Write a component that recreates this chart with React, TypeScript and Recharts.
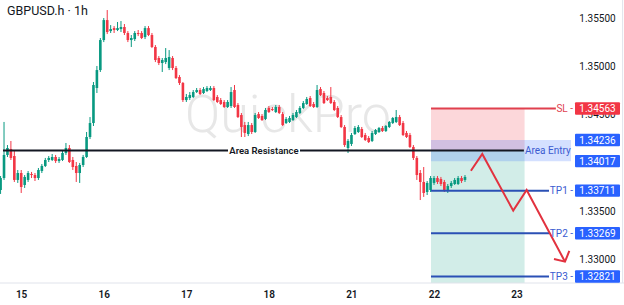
import React from 'react';
import {
  ComposedChart, Bar, Line, XAxis, YAxis, ReferenceArea, ReferenceLine, ReferenceDot,
} from 'recharts';

// [open, high, low, close] hourly candles
const ohlc: [number, number, number, number][] = [
  [1.33718, 1.33863, 1.33677, 1.33842],
  [1.33842, 1.34423, 1.33822, 1.34081],
  [1.34081, 1.34184, 1.34060, 1.34153],
  [1.34143, 1.34226, 1.34029, 1.34050],
  [1.34070, 1.34132, 1.33801, 1.33822],
  [1.33822, 1.33925, 1.33791, 1.33894],
  [1.33894, 1.33925, 1.33687, 1.33749],
  [1.33770, 1.33873, 1.33739, 1.33853],
  [1.33822, 1.33915, 1.33801, 1.33894],
  [1.33884, 1.33905, 1.33842, 1.33873],
  [1.33873, 1.33894, 1.33811, 1.33842],
  [1.33842, 1.33946, 1.33822, 1.33925],
  [1.33915, 1.33987, 1.33894, 1.33967],
  [1.33967, 1.34050, 1.33956, 1.34029],
  [1.34029, 1.34070, 1.34008, 1.34050],
  [1.34029, 1.34091, 1.34018, 1.34060],
  [1.34060, 1.34081, 1.33998, 1.34018],
  [1.34018, 1.34060, 1.33998, 1.34039],
  [1.34029, 1.34122, 1.34018, 1.34101],
  [1.34101, 1.34205, 1.34081, 1.34153],
  [1.34153, 1.34184, 1.33998, 1.34008],
  [1.34029, 1.34060, 1.33925, 1.33956],
  [1.33967, 1.34008, 1.33801, 1.33894],
  [1.33894, 1.33998, 1.33791, 1.33977],
  [1.33977, 1.34081, 1.33956, 1.34060],
  [1.34060, 1.34319, 1.34050, 1.34267],
  [1.34267, 1.34474, 1.34246, 1.34412],
  [1.34412, 1.34837, 1.34381, 1.34806],
  [1.34775, 1.35003, 1.34723, 1.34961],
  [1.34961, 1.35293, 1.34941, 1.35272],
  [1.35272, 1.35500, 1.35251, 1.35479],
  [1.35479, 1.35583, 1.35334, 1.35355],
  [1.35365, 1.35427, 1.35345, 1.35386],
  [1.35396, 1.35417, 1.35345, 1.35376],
  [1.35376, 1.35459, 1.35365, 1.35396],
  [1.35386, 1.35469, 1.35355, 1.35407],
  [1.35407, 1.35438, 1.35324, 1.35345],
  [1.35345, 1.35365, 1.35251, 1.35272],
  [1.35272, 1.35324, 1.35200, 1.35293],
  [1.35282, 1.35365, 1.35262, 1.35345],
  [1.35345, 1.35376, 1.35313, 1.35334],
  [1.35345, 1.35365, 1.35282, 1.35293],
  [1.35303, 1.35417, 1.35282, 1.35396],
  [1.35396, 1.35417, 1.35313, 1.35324],
  [1.35324, 1.35345, 1.35189, 1.35200],
  [1.35200, 1.35220, 1.35044, 1.35065],
  [1.35086, 1.35106, 1.35013, 1.35034],
  [1.35034, 1.35086, 1.34941, 1.35065],
  [1.35044, 1.35189, 1.35023, 1.35086],
  [1.34982, 1.35168, 1.34961, 1.35096],
  [1.35086, 1.35106, 1.34961, 1.34982],
  [1.34982, 1.35003, 1.34868, 1.34878],
  [1.34889, 1.34909, 1.34806, 1.34827],
  [1.34827, 1.34837, 1.34630, 1.34650],
  [1.34650, 1.34713, 1.34630, 1.34682],
  [1.34671, 1.34733, 1.34650, 1.34702],
  [1.34682, 1.34754, 1.34671, 1.34733],
  [1.34733, 1.34775, 1.34723, 1.34754],
  [1.34754, 1.34775, 1.34702, 1.34713],
  [1.34723, 1.34785, 1.34713, 1.34764],
  [1.34744, 1.34795, 1.34733, 1.34775],
  [1.34754, 1.34795, 1.34744, 1.34775],
  [1.34775, 1.34795, 1.34640, 1.34650],
  [1.34682, 1.34702, 1.34619, 1.34630],
  [1.34650, 1.34671, 1.34599, 1.34609],
  [1.34630, 1.34650, 1.34568, 1.34578],
  [1.34578, 1.34650, 1.34568, 1.34630],
  [1.34588, 1.34785, 1.34568, 1.34733],
  [1.34754, 1.34806, 1.34568, 1.34578],
  [1.34599, 1.34619, 1.34464, 1.34474],
  [1.34495, 1.34516, 1.34267, 1.34371],
  [1.34391, 1.34423, 1.34267, 1.34309],
  [1.34298, 1.34423, 1.34277, 1.34391],
  [1.34391, 1.34412, 1.34298, 1.34319],
  [1.34319, 1.34516, 1.34309, 1.34495],
  [1.34505, 1.34526, 1.34454, 1.34464],
  [1.34485, 1.34505, 1.34433, 1.34443],
  [1.34454, 1.34568, 1.34443, 1.34547],
  [1.34568, 1.34588, 1.34516, 1.34526],
  [1.34557, 1.34578, 1.34536, 1.34547],
  [1.34526, 1.34599, 1.34516, 1.34578],
  [1.34578, 1.34599, 1.34505, 1.34516],
  [1.34505, 1.34526, 1.34381, 1.34391],
  [1.34412, 1.34474, 1.34402, 1.34454],
  [1.34423, 1.34485, 1.34412, 1.34464],
  [1.34443, 1.34516, 1.34433, 1.34495],
  [1.34474, 1.34547, 1.34464, 1.34526],
  [1.34516, 1.34588, 1.34505, 1.34568],
  [1.34568, 1.34640, 1.34557, 1.34619],
  [1.34609, 1.34682, 1.34599, 1.34661],
  [1.34671, 1.34692, 1.34578, 1.34588],
  [1.34609, 1.34630, 1.34568, 1.34578],
  [1.34578, 1.34806, 1.34568, 1.34754],
  [1.34764, 1.34785, 1.34692, 1.34702],
  [1.34723, 1.34744, 1.34609, 1.34619],
  [1.34671, 1.34692, 1.34640, 1.34650],
  [1.34682, 1.34785, 1.34609, 1.34619],
  [1.34630, 1.34650, 1.34536, 1.34547],
  [1.34568, 1.34588, 1.34464, 1.34474],
  [1.34474, 1.34495, 1.34360, 1.34371],
  [1.34371, 1.34391, 1.34164, 1.34184],
  [1.34153, 1.34246, 1.34101, 1.34226],
  [1.34195, 1.34309, 1.34174, 1.34288],
  [1.34298, 1.34381, 1.34288, 1.34360],
  [1.34319, 1.34391, 1.34309, 1.34371],
  [1.34350, 1.34371, 1.34257, 1.34267],
  [1.34288, 1.34309, 1.34226, 1.34236],
  [1.34257, 1.34277, 1.34205, 1.34215],
  [1.34226, 1.34329, 1.34215, 1.34309],
  [1.34298, 1.34350, 1.34288, 1.34340],
  [1.34319, 1.34371, 1.34309, 1.34360],
  [1.34360, 1.34381, 1.34319, 1.34329],
  [1.34329, 1.34391, 1.34319, 1.34381],
  [1.34371, 1.34433, 1.34360, 1.34423],
  [1.34412, 1.34474, 1.34402, 1.34464],
  [1.34423, 1.34547, 1.34412, 1.34474],
  [1.34474, 1.34495, 1.34381, 1.34391],
  [1.34412, 1.34433, 1.34277, 1.34288],
  [1.34309, 1.34329, 1.34257, 1.34267],
  [1.34288, 1.34309, 1.34153, 1.34164],
  [1.34164, 1.34184, 1.34029, 1.34050],
  [1.34050, 1.34070, 1.33822, 1.33873],
  [1.33894, 1.33925, 1.33614, 1.33801],
  [1.33801, 1.33956, 1.33646, 1.33687],
  [1.33697, 1.33811, 1.33666, 1.33791],
  [1.33718, 1.33863, 1.33697, 1.33842],
  [1.33791, 1.33863, 1.33770, 1.33842],
  [1.33842, 1.33863, 1.33780, 1.33801],
  [1.33832, 1.33853, 1.33759, 1.33780],
  [1.33801, 1.33822, 1.33697, 1.33718],
  [1.33718, 1.33780, 1.33687, 1.33759],
  [1.33759, 1.33811, 1.33739, 1.33791],
  [1.33780, 1.33842, 1.33770, 1.33822],
  [1.33780, 1.33863, 1.33770, 1.33842],
  [1.33842, 1.33863, 1.33791, 1.33811],
  [1.33822, 1.33873, 1.33801, 1.33853],
];

const dayTicks = [6, 30, 54, 78, 102, 126, 150];
const dayLabels = ['15', '16', '17', '18', '21', '22', '23'];
// 1.34000 sits fully behind the 1.34017 badge in the reference, so only visible ticks are listed
const priceTicks = [1.355, 1.35, 1.345, 1.335, 1.33];

const slPrice = 1.34563;
const entryHigh = 1.34236;
const entryLow = 1.34017;
const resistancePrice = 1.34127;
const tpPrices = [1.33711, 1.33269, 1.32821];
const tpNames = ['TP1', 'TP2', 'TP3'];

const zigX = [136.6, 139.9, 148.9, 152.8, 163.95];
const zigY = [1.33918, 1.34091, 1.33504, 1.33718, 1.32975];

const X_DOMAIN: [number, number] = [-0.29, 181.1];
const Y_DOMAIN: [number, number] = [1.32754, 1.35687];

const GREEN = '#089981';
const RED = '#f23645';
const BLUE = '#2962ff';
const TP_LINE = '#2b50b5';
const FONT = 'Roboto, sans-serif';

const rows = ohlc.map(([o, h, l, c], i) => ({ i, o, h, l, c, range: [l, h] }));
const zigData = zigX.map((x, k) => ({ i: x, p: zigY[k] }));

const Candle = (props: any) => {
  const { x, y, width, height } = props;
  const d = props.payload ?? props;
  const { o, h, l, c } = d;
  if (height == null || !isFinite(height)) return null;
  const color = c >= o ? GREEN : RED;
  const k = height / (h - l);
  const yO = y + (h - o) * k;
  const yC = y + (h - c) * k;
  const cx = x + width / 2;
  const top = Math.min(yO, yC);
  const bh = Math.max(Math.abs(yO - yC), 1);
  return (
    <g>
      <line x1={cx} x2={cx} y1={y} y2={y + height} stroke={color} strokeWidth={1} />
      <rect x={x} y={top} width={width} height={bh} fill={color} />
    </g>
  );
};

const priceText = (v: number) => (p: any) => (
  <text x={597.5} y={p.cy + 3.6} textAnchor="middle" fontSize={10} fill="#131722" fontFamily={FONT}>
    {v.toFixed(5)}
  </text>
);

const DayTick = (p: any) => (
  <text x={p.x} y={298} textAnchor="middle" fontSize={10} fontWeight={600} fill="#131722" fontFamily={FONT}>
    {dayLabels[dayTicks.indexOf(p.payload.value)]}
  </text>
);

const badge = (color: string, text: string) => (p: any) => (
  <g>
    <rect x={575} y={p.cy - 6.2} width={45} height={12.4} rx={1} fill={color} />
    <text x={597.5} y={p.cy + 3.6} textAnchor="middle" fontSize={10} fill="#ffffff" fontFamily={FONT}>{text}</text>
  </g>
);

const sideLabel = (color: string, text: string) => (p: any) => (
  <text x={573} y={p.cy + 3.6} textAnchor="end" fontSize={10} fill={color} fontFamily={FONT}>{text}</text>
);

const ArrowDot = (p: any) => {
  if (p.index !== zigX.length - 1) return <g key={p.index} />;
  const { cx, cy } = p;
  return (
    <polyline key={p.index} points={`${cx - 11},${cy - 2.7} ${cx},${cy} ${cx + 4.3},${cy - 10.7}`}
      fill="none" stroke="#e2323f" strokeWidth={2} strokeLinejoin="miter" />
  );
};

export default function App() {
  return (
    <div style={{ position: 'absolute', left: 0, top: 0, width: 624, height: 305, background: '#ffffff', fontFamily: FONT }}>
      <svg width={624} height={305} style={{ position: 'absolute', left: 0, top: 0 }}>
        <text x={185} y={132} fontSize={52} fontWeight={300} fill="#e7e7e7" fontFamily={FONT}>QuickPro</text>
      </svg>
      <div style={{ position: 'absolute', left: 0, top: 0 }}>
        <ComposedChart width={624} height={305} data={rows} margin={{ top: 0, right: 0, bottom: 0, left: 0 }}>
          <XAxis type="number" dataKey="i" domain={X_DOMAIN} allowDataOverflow ticks={dayTicks} interval={0}
            height={22} axisLine={{ stroke: '#e0e3eb' }} tickLine={false} tick={DayTick} />
          <YAxis type="number" domain={Y_DOMAIN} allowDataOverflow hide />
          <ReferenceLine x={180.7} stroke="#e0e3eb" strokeWidth={1} />
          <ReferenceArea x1={125} x2={152.2} y1={resistancePrice} y2={slPrice} fill={RED} fillOpacity={0.2} stroke="none" />
          <ReferenceArea x1={125} x2={152.2} y1={Y_DOMAIN[0]} y2={resistancePrice} fill={GREEN} fillOpacity={0.18} stroke="none" />
          <ReferenceArea x1={125} x2={165.7} y1={entryLow} y2={entryHigh} fill={BLUE} fillOpacity={0.2} stroke="none" />
          <Bar dataKey="range" shape={Candle} barSize={2.6} isAnimationActive={false} />
          <ReferenceLine segment={[{ x: 0.58, y: resistancePrice }, { x: 152, y: resistancePrice }]} stroke="#131722" strokeWidth={2} />
          <ReferenceLine segment={[{ x: 125, y: slPrice }, { x: 161.3, y: slPrice }]} stroke="#e0404e" strokeWidth={2} />
          {tpPrices.map((p) => (
            <ReferenceLine key={p} segment={[{ x: 125, y: p }, { x: 159.3, y: p }]} stroke={TP_LINE} strokeWidth={2} />
          ))}
          <Line data={zigData} dataKey="p" type="linear" stroke="#e2323f" strokeWidth={2} dot={ArrowDot}
            activeDot={false} isAnimationActive={false} />
          <ReferenceDot x={76.45} y={resistancePrice} r={0} shape={(p: any) => (
            <g>
              <rect x={p.cx - 36} y={p.cy - 6} width={72} height={12} fill="#ffffff" />
              <text x={p.cx} y={p.cy + 3.4} textAnchor="middle" fontSize={9.5} fontWeight={600} fill="#131722" fontFamily={FONT}>Area Resistance</text>
            </g>
          )} />
          <ReferenceDot x={152.3} y={resistancePrice} r={0} shape={(p: any) => (
            <text x={p.cx} y={p.cy + 3.6} textAnchor="start" fontSize={10} fill="#3a5bd0" fontFamily={FONT}>Area Entry</text>
          )} />
          {priceTicks.map((v) => (
            <ReferenceDot key={'t' + v} x={173.4} y={v} r={0} shape={priceText(v)} />
          ))}
          <ReferenceDot x={166.3} y={slPrice} r={0} shape={sideLabel('#e0404e', 'SL -')} />
          {tpPrices.map((p, k) => (
            <ReferenceDot key={'l' + p} x={166.3} y={p} r={0} shape={sideLabel('#3a5bd0', tpNames[k] + ' -')} />
          ))}
          <ReferenceDot x={173.4} y={slPrice} r={0} shape={badge(RED, slPrice.toFixed(5))} />
          <ReferenceDot x={173.4} y={entryHigh} r={0} shape={badge(BLUE, entryHigh.toFixed(5))} />
          <ReferenceDot x={173.4} y={entryLow} r={0} shape={badge(BLUE, entryLow.toFixed(5))} />
          {tpPrices.map((p) => (
            <ReferenceDot key={'b' + p} x={173.4} y={p} r={0} shape={badge(BLUE, p.toFixed(5))} />
          ))}
        </ComposedChart>
      </div>
      <div style={{ position: 'absolute', left: 7, top: 3, fontSize: 12.5, color: '#131722', fontFamily: FONT, lineHeight: '16px', whiteSpace: 'nowrap' }}>
        GBPUSD.h · 1h
      </div>
    </div>
  );
}
